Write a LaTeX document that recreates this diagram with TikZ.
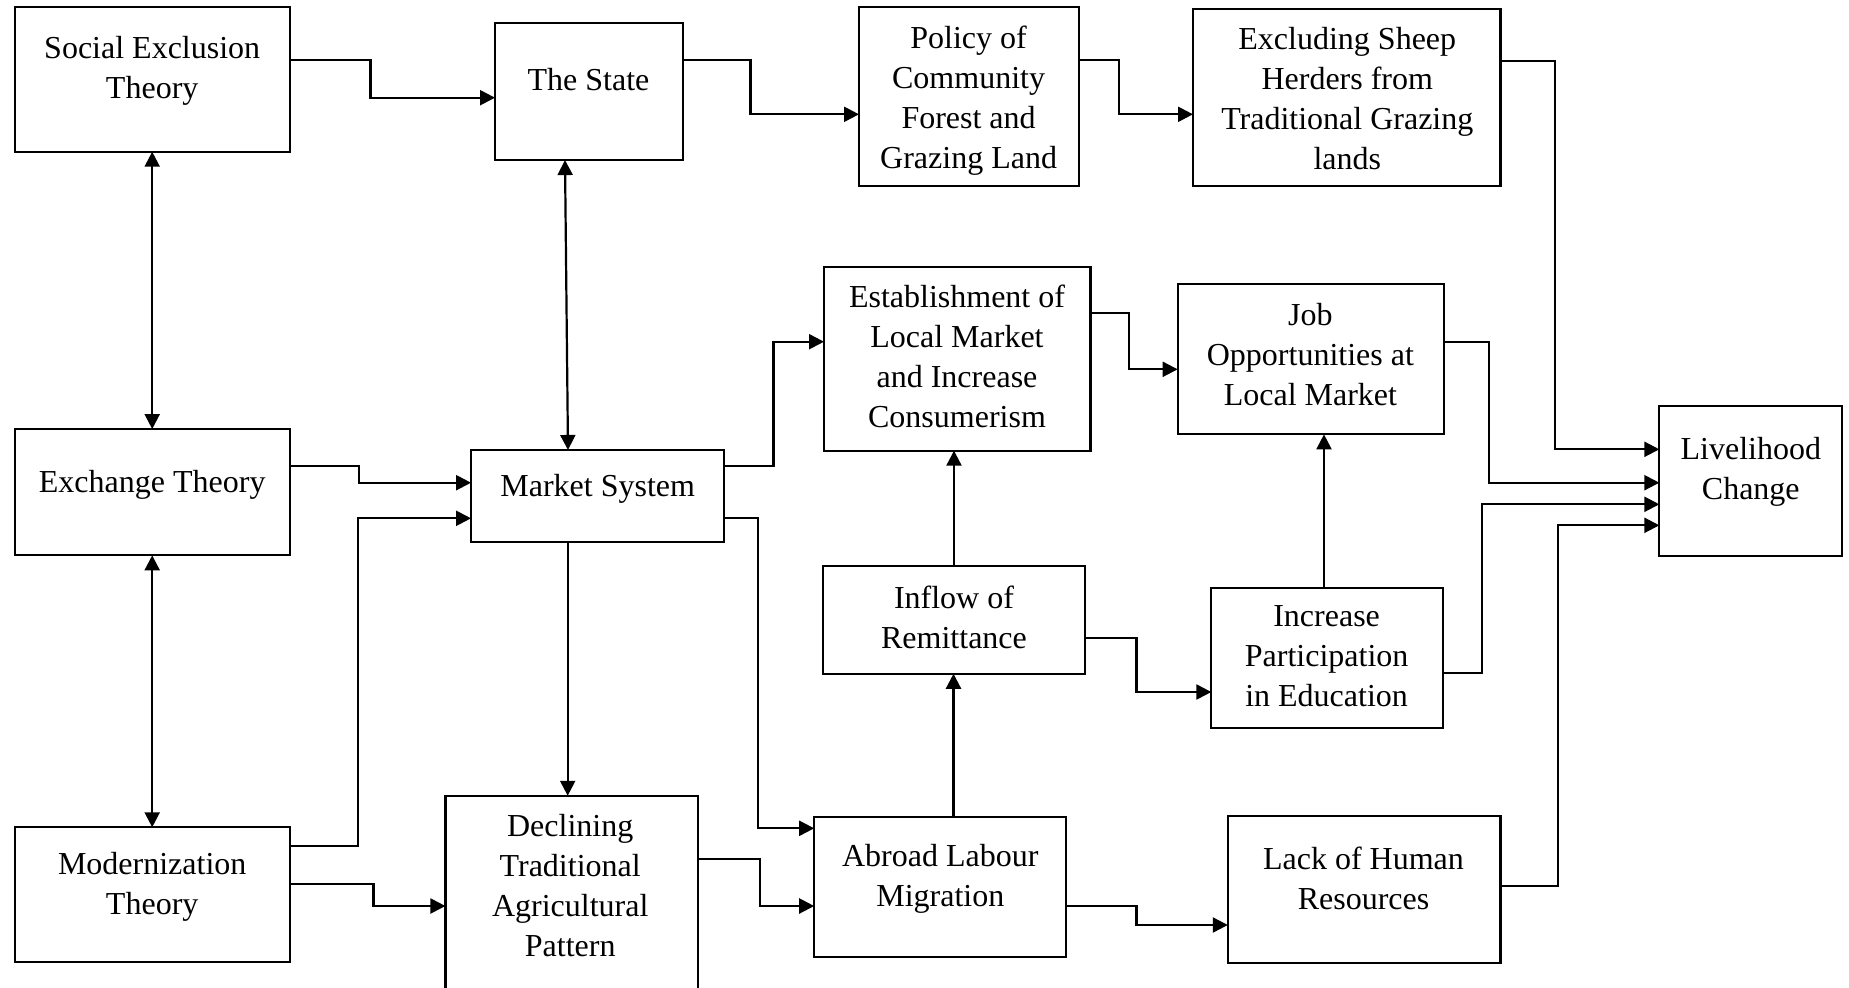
\documentclass[tikz,border=0pt]{standalone}
\usepackage{fontspec}
\setmainfont{Liberation Serif}
\usepackage{tikz}
\usetikzlibrary{arrows.meta,calc,positioning}

\begin{document}
\begin{tikzpicture}[x=0.5pt, y=-0.5pt,
    >={Triangle[length=7.5pt,width=7.5pt]},
    box/.style={draw, line width=1.1pt, inner sep=0pt, outer sep=0pt},
    lbl/.style={align=center, inner sep=0pt, font=\fontsize{16pt}{20pt}\selectfont},
    link/.style={->, line width=1.1pt},
    twoway/.style={<->, line width=1.1pt}]
    \clip (0, 0) rectangle (1849, 987);

    % Theories
    \node[box, minimum width=137.5pt, minimum height=72.2pt] (soc) at (152.2, 79.5) {};
    \node[lbl] (soctext) at (152.2, 71) {Social Exclusion\\Theory};

    \node[box, minimum width=137.5pt, minimum height=63.15pt] (exch) at (152.2, 492.2) {};
    \node[lbl] (exchtext) at (152.2, 484.5) {Exchange Theory};

    \node[box, minimum width=137.5pt, minimum height=67.5pt] (modern) at (152.2, 894.8) {};
    \node[lbl] (moderntext) at (152.2, 887.2) {Modernization\\Theory};

    % State and market
    \node[box, minimum width=93.8pt, minimum height=68.65pt] (state) at (588.8, 91.4) {};
    \node[lbl] (statetext) at (588.5, 80) {The State};

    \node[box, minimum width=126.65pt, minimum height=45.85pt] (market) at (597.7, 495.8) {};
    \node[lbl] (markettext) at (597.7, 489) {Market System};

    \node[box, minimum width=126.3pt, minimum height=102.15pt] (declin) at (571.7, 897.9) {};
    \node[lbl] (declintext) at (570.2, 885.3) {Declining\\Traditional\\Agricultural\\Pattern};

    % Policy row
    \node[box, minimum width=110pt, minimum height=89.35pt] (policy) at (969, 96.6) {};
    \node[lbl] (policytext) at (968.6, 100.5) {Policy of\\Community\\Forest and\\Grazing Land};

    \node[box, minimum width=153.7pt, minimum height=88.35pt] (excl) at (1346.7, 97.7) {};
    \node[lbl] (excltext) at (1347.3, 98.4) {Excluding Sheep\\Herders from\\Traditional Grazing\\lands};

    % Market effects
    \node[box, minimum width=133.2pt, minimum height=92pt] (estab) at (957.2, 358.7) {};
    \node[lbl] (estabtext) at (957, 356.3) {Establishment of\\Local Market\\and Increase\\Consumerism};

    \node[box, minimum width=133.35pt, minimum height=75.15pt] (job) at (1311, 359.2) {};
    \node[lbl] (jobtext) at (1310.4, 354.6) {Job\\Opportunities at\\Local Market};

    \node[box, minimum width=131pt, minimum height=53.85pt] (inflow) at (954, 619.9) {};
    \node[lbl] (inflowtext) at (954, 617) {Inflow of\\Remittance};

    \node[box, minimum width=115.95pt, minimum height=70.3pt] (incr) at (1327.3, 658) {};
    \node[lbl] (incrtext) at (1326.6, 656.3) {Increase\\Participation\\in Education};

    % Migration
    \node[box, minimum width=126pt, minimum height=70pt] (abroad) at (940.2, 886.7) {};
    \node[lbl] (abroadtext) at (940.3, 879.3) {Abroad Labour\\Migration};

    \node[box, minimum width=136.3pt, minimum height=73.5pt] (lack) at (1364.1, 889.2) {};
    \node[lbl] (lacktext) at (1363.5, 878.4) {Lack of Human\\Resources};

    % Outcome
    \node[box, minimum width=91.35pt, minimum height=74.85pt] (live) at (1750.7, 480.9) {};
    \node[lbl] (livetext) at (1750.8, 472.3) {Livelihood\\Change};

    % Links between theories
    \draw[twoway] (soc.south) -- (exch.north);
    \draw[twoway] (exch.south) -- (modern.north);
    \draw[twoway] ($(state.south)+(-23.8,0)$) -- ($(market.north)+(-29.7,0)$);

    % Top row
    \draw[link] ($(soc.east)+(0,-19.5)$) -- ++(80.8,0) |- ($(state.west)+(0,6.3)$);
    \draw[link] ($(state.east)+(0,-31.4)$) -- ++(67.8,0) |- ($(policy.west)+(0,17.7)$);
    \draw[link] ($(policy.east)+(0,-36.6)$) -- ++(40.3,0) |- ($(excl.west)+(0,16.6)$);
    \draw[link] ($(excl.east)+(0,-37)$) -- ++(54.9,0) |- ($(live.west)+(0,-31.6)$);

    % Into the market
    \draw[link] ($(exch.east)+(0,-26.2)$) -- ++(69.6,0) |- ($(market.west)+(0,-13.1)$);
    \draw[link] ($(modern.east)+(0,-48.8)$) -- ++(68.3,0) |- ($(market.west)+(0,22.5)$);
    \draw[link] ($(modern.east)+(0,-10.5)$) -- ++(83.8,0) |- ($(declin.west)+(0,8.1)$);

    % Out of the market
    \draw[link] ($(market.east)+(0,-30.1)$) -- ++(49.2,0) |- ($(estab.west)+(0,-17)$);
    \draw[link] ($(market.south)+(-30,0)$) coordinate (m1) -- (m1 |- declin.north);
    \draw[link] ($(market.east)+(0,21.9)$) -- ++(33.7,0) |- ($(abroad.west)+(0,-58.4)$);
    \draw[link] ($(declin.east)+(0,-38.6)$) -- ++(62,0) |- ($(abroad.west)+(0,19.3)$);

    % Remittance chain
    \draw[link] ($(abroad.north)+(13.3,0)$) coordinate (a1) -- (a1 |- inflow.south);
    \draw[link] (inflow.north) -- (inflow.north |- estab.south);
    \draw[link] ($(estab.east)+(0,-45.4)$) -- ++(38.9,0) |- ($(job.west)+(0,10.1)$);
    \draw[link] ($(inflow.east)+(0,17.8)$) -- ++(51.4,0) |- ($(incr.west)+(0,34)$);
    \draw[link] ($(incr.north)+(-3.3,0)$) coordinate (i1) -- (i1 |- job.south);
    \draw[link] ($(abroad.east)+(0,19.3)$) -- ++(70.2,0) |- ($(lack.west)+(0,35.8)$);

    % Into livelihood change
    \draw[link] ($(job.east)+(0,-17.5)$) -- ++(44.6,0) |- ($(live.west)+(0,1.8)$);
    \draw[link] ($(incr.east)+(0,15)$) -- ++(39.1,0) |- ($(live.west)+(0,23.4)$);
    \draw[link] ($(lack.east)+(0,-3.5)$) -- ++(57.9,0) |- ($(live.west)+(0,44.4)$);
\end{tikzpicture}
\end{document}
